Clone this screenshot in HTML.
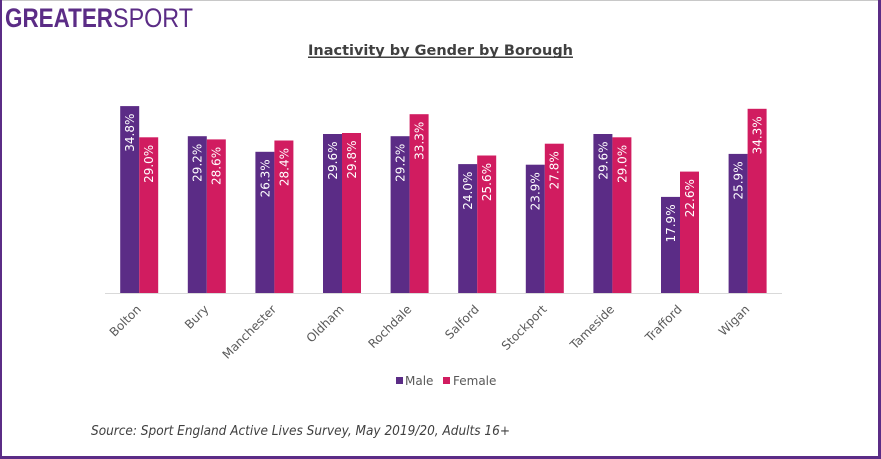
<!DOCTYPE html>
<html><head><meta charset="utf-8"><style>
html,body{margin:0;padding:0;background:#fff;}
svg{display:block;}
</style></head><body>
<svg width="881" height="459" viewBox="0 0 881 459" xmlns="http://www.w3.org/2000/svg">
<rect x="0" y="0" width="881" height="459" fill="#fff"/>
<line x1="0" y1="0.5" x2="881" y2="0.5" stroke="#c8c8c8" stroke-width="1"/>
<rect x="0" y="0" width="2" height="459" fill="#5b2c86"/>
<rect x="878" y="0" width="3" height="459" fill="#5b2c86"/>
<rect x="0" y="456" width="881" height="3" fill="#5b2c86"/>

<text x="5" y="27" font-family="Liberation Sans, sans-serif" font-weight="bold" font-size="27" fill="#5b2c86" textLength="108" lengthAdjust="spacingAndGlyphs">GREATER</text>
<text x="113" y="27" font-family="Liberation Sans, sans-serif" font-size="27" fill="#5b2c86" textLength="80" lengthAdjust="spacingAndGlyphs">SPORT</text>

<text x="308" y="55" font-family="DejaVu Sans, Verdana, sans-serif" font-weight="bold" font-size="14.5" fill="#404040" textLength="265" lengthAdjust="spacingAndGlyphs">Inactivity by Gender by Borough</text>
<rect x="308" y="56.5" width="265" height="1.5" fill="#404040"/>

<line x1="105" y1="293.5" x2="782" y2="293.5" stroke="#d9d9d9" stroke-width="1"/>

<g id="bars" font-family="DejaVu Sans, Verdana, sans-serif" font-size="12" fill="#fff">
</g>
<g font-family="DejaVu Sans, Verdana, sans-serif" font-size="12">
<!-- generated bars -->
<rect x="120.2" y="106.1" width="19" height="186.9" fill="#5b2c86"/>
<rect x="139.2" y="137.3" width="19" height="155.7" fill="#d11c60"/>
<text transform="translate(134.1,113.6) rotate(-90)" text-anchor="end" fill="#fff">34.8%</text>
<text transform="translate(153.1,144.8) rotate(-90)" text-anchor="end" fill="#fff">29.0%</text>

<rect x="187.8" y="136.2" width="19" height="156.8" fill="#5b2c86"/>
<rect x="206.8" y="139.4" width="19" height="153.6" fill="#d11c60"/>
<text transform="translate(201.7,143.7) rotate(-90)" text-anchor="end" fill="#fff">29.2%</text>
<text transform="translate(220.7,146.9) rotate(-90)" text-anchor="end" fill="#fff">28.6%</text>

<rect x="255.4" y="151.8" width="19" height="141.2" fill="#5b2c86"/>
<rect x="274.4" y="140.5" width="19" height="152.5" fill="#d11c60"/>
<text transform="translate(269.3,159.3) rotate(-90)" text-anchor="end" fill="#fff">26.3%</text>
<text transform="translate(288.3,148.0) rotate(-90)" text-anchor="end" fill="#fff">28.4%</text>

<rect x="323.0" y="134.0" width="19" height="159.0" fill="#5b2c86"/>
<rect x="342.0" y="133.0" width="19" height="160.0" fill="#d11c60"/>
<text transform="translate(336.9,141.5) rotate(-90)" text-anchor="end" fill="#fff">29.6%</text>
<text transform="translate(355.9,140.5) rotate(-90)" text-anchor="end" fill="#fff">29.8%</text>

<rect x="390.6" y="136.2" width="19" height="156.8" fill="#5b2c86"/>
<rect x="409.6" y="114.2" width="19" height="178.8" fill="#d11c60"/>
<text transform="translate(404.5,143.7) rotate(-90)" text-anchor="end" fill="#fff">29.2%</text>
<text transform="translate(423.5,121.7) rotate(-90)" text-anchor="end" fill="#fff">33.3%</text>

<rect x="458.2" y="164.1" width="19" height="128.9" fill="#5b2c86"/>
<rect x="477.2" y="155.5" width="19" height="137.5" fill="#d11c60"/>
<text transform="translate(472.1,171.6) rotate(-90)" text-anchor="end" fill="#fff">24.0%</text>
<text transform="translate(491.1,163.0) rotate(-90)" text-anchor="end" fill="#fff">25.6%</text>

<rect x="525.8" y="164.7" width="19" height="128.3" fill="#5b2c86"/>
<rect x="544.8" y="143.7" width="19" height="149.3" fill="#d11c60"/>
<text transform="translate(539.7,172.2) rotate(-90)" text-anchor="end" fill="#fff">23.9%</text>
<text transform="translate(558.7,151.2) rotate(-90)" text-anchor="end" fill="#fff">27.8%</text>

<rect x="593.4" y="134.0" width="19" height="159.0" fill="#5b2c86"/>
<rect x="612.4" y="137.3" width="19" height="155.7" fill="#d11c60"/>
<text transform="translate(607.3,141.5) rotate(-90)" text-anchor="end" fill="#fff">29.6%</text>
<text transform="translate(626.3,144.8) rotate(-90)" text-anchor="end" fill="#fff">29.0%</text>

<rect x="661.0" y="196.9" width="19" height="96.1" fill="#5b2c86"/>
<rect x="680.0" y="171.6" width="19" height="121.4" fill="#d11c60"/>
<text transform="translate(674.9,204.4) rotate(-90)" text-anchor="end" fill="#fff">17.9%</text>
<text transform="translate(693.9,179.1) rotate(-90)" text-anchor="end" fill="#fff">22.6%</text>

<rect x="728.6" y="153.9" width="19" height="139.1" fill="#5b2c86"/>
<rect x="747.6" y="108.8" width="19" height="184.2" fill="#d11c60"/>
<text transform="translate(742.5,161.4) rotate(-90)" text-anchor="end" fill="#fff">25.9%</text>
<text transform="translate(761.5,116.3) rotate(-90)" text-anchor="end" fill="#fff">34.3%</text>
</g>

<g font-family="DejaVu Sans, Verdana, sans-serif" font-size="12" fill="#595959" text-anchor="end">
<text transform="translate(141.8,310) rotate(-45)">Bolton</text>
<text transform="translate(209.4,310) rotate(-45)">Bury</text>
<text transform="translate(277.0,310) rotate(-45)">Manchester</text>
<text transform="translate(344.6,310) rotate(-45)">Oldham</text>
<text transform="translate(412.2,310) rotate(-45)">Rochdale</text>
<text transform="translate(479.8,310) rotate(-45)">Salford</text>
<text transform="translate(547.4,310) rotate(-45)">Stockport</text>
<text transform="translate(615.0,310) rotate(-45)">Tameside</text>
<text transform="translate(682.6,310) rotate(-45)">Trafford</text>
<text transform="translate(750.2,310) rotate(-45)">Wigan</text>
</g>

<rect x="396" y="377" width="7" height="7" fill="#5b2c86"/>
<text x="405" y="385" font-family="DejaVu Sans, Verdana, sans-serif" font-size="12" fill="#595959">Male</text>
<rect x="443" y="377" width="7" height="7" fill="#d11c60"/>
<text x="453" y="385" font-family="DejaVu Sans, Verdana, sans-serif" font-size="12" fill="#595959">Female</text>

<text x="91" y="435" font-family="DejaVu Sans, Verdana, sans-serif" font-style="italic" font-size="13" fill="#404040" textLength="419" lengthAdjust="spacingAndGlyphs">Source: Sport England Active Lives Survey, May 2019/20, Adults 16+</text>
</svg>
</body></html>
